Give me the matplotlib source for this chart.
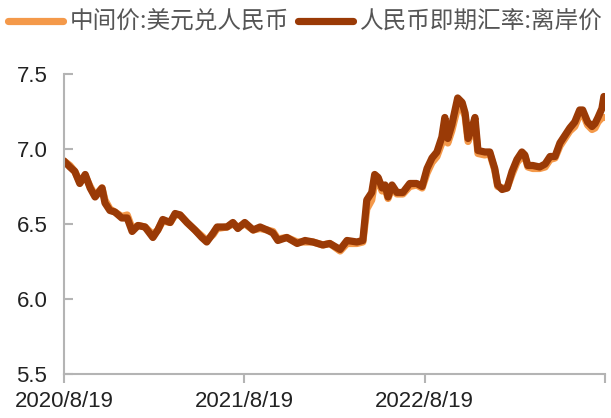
import pandas as pd
import matplotlib
matplotlib.use("Agg")
import matplotlib.pyplot as plt

plt.rcParams['font.family'] = ['Noto Sans CJK SC', 'DejaVu Sans']

dates = ["2020-08-19", "2020-08-31", "2020-09-10", "2020-09-20", "2020-10-01", "2020-10-11",
         "2020-10-21", "2020-11-04", "2020-11-10", "2020-11-20", "2020-11-30", "2020-12-14",
         "2020-12-25", "2021-01-04", "2021-01-16", "2021-01-30", "2021-02-15", "2021-02-25",
         "2021-03-07", "2021-03-22", "2021-04-01", "2021-04-11", "2021-04-25", "2021-05-11",
         "2021-05-25", "2021-06-04", "2021-06-17", "2021-06-25", "2021-07-15", "2021-07-27",
         "2021-08-06", "2021-08-20", "2021-09-06", "2021-09-20", "2021-10-04", "2021-10-16",
         "2021-10-26", "2021-11-13", "2021-12-04", "2021-12-20", "2022-01-05", "2022-01-25",
         "2022-02-08", "2022-03-01", "2022-03-15", "2022-04-04", "2022-04-16", "2022-04-24",
         "2022-05-04", "2022-05-10", "2022-05-17", "2022-05-25", "2022-05-31", "2022-06-06",
         "2022-06-14", "2022-06-24", "2022-07-06", "2022-07-20", "2022-08-03", "2022-08-14",
         "2022-08-24", "2022-09-03", "2022-09-13", "2022-09-23", "2022-09-29", "2022-10-05",
         "2022-10-13", "2022-10-19", "2022-10-25", "2022-11-03", "2022-11-09", "2022-11-15",
         "2022-11-23", "2022-11-29", "2022-12-05", "2022-12-19", "2022-12-29", "2023-01-08",
         "2023-01-14", "2023-01-23", "2023-02-02", "2023-02-12", "2023-02-22", "2023-03-04",
         "2023-03-10", "2023-03-16", "2023-03-26", "2023-04-09", "2023-04-20", "2023-04-30",
         "2023-05-10", "2023-05-20", "2023-05-30", "2023-06-09", "2023-06-19", "2023-06-29",
         "2023-07-05", "2023-07-15", "2023-07-24", "2023-07-30", "2023-08-05", "2023-08-13",
         "2023-08-17"]

# 中间价:美元兑人民币
zhongjianjia = [6.92, 6.89, 6.85, 6.78, 6.82, 6.75, 6.69, 6.74, 6.66, 6.60, 6.58, 6.55,
                6.56, 6.47, 6.49, 6.48, 6.43, 6.46, 6.52, 6.51, 6.56, 6.56, 6.51, 6.46,
                6.42, 6.39, 6.43, 6.47, 6.48, 6.50, 6.48, 6.50, 6.46, 6.47, 6.46, 6.45,
                6.40, 6.41, 6.38, 6.38, 6.38, 6.36, 6.37, 6.32, 6.37, 6.37, 6.38, 6.60,
                6.66, 6.78, 6.79, 6.72, 6.74, 6.67, 6.74, 6.70, 6.70, 6.75, 6.76, 6.74,
                6.84, 6.91, 6.95, 7.04, 7.14, 7.04, 7.12, 7.20, 7.28, 7.27, 7.22, 7.05,
                7.12, 7.17, 6.97, 6.96, 6.97, 6.86, 6.75, 6.74, 6.74, 6.83, 6.91, 6.95,
                6.95, 6.88, 6.87, 6.87, 6.88, 6.93, 6.94, 7.02, 7.07, 7.12, 7.15, 7.23,
                7.24, 7.16, 7.13, 7.14, 7.18, 7.21, 7.21]

# 人民币即期汇率:离岸价
liangjia = [6.92, 6.88, 6.85, 6.77, 6.83, 6.74, 6.68, 6.74, 6.64, 6.59, 6.58, 6.54,
            6.54, 6.45, 6.49, 6.48, 6.41, 6.46, 6.53, 6.51, 6.57, 6.56, 6.51, 6.46,
            6.41, 6.38, 6.44, 6.48, 6.48, 6.51, 6.47, 6.51, 6.46, 6.48, 6.46, 6.44,
            6.39, 6.41, 6.37, 6.39, 6.38, 6.36, 6.37, 6.33, 6.39, 6.38, 6.39, 6.66,
            6.71, 6.83, 6.81, 6.74, 6.76, 6.68, 6.76, 6.71, 6.71, 6.77, 6.77, 6.75,
            6.87, 6.94, 6.98, 7.08, 7.21, 7.07, 7.16, 7.25, 7.34, 7.31, 7.24, 7.07,
            7.14, 7.21, 6.99, 6.98, 6.98, 6.87, 6.76, 6.73, 6.74, 6.85, 6.93, 6.98,
            6.96, 6.89, 6.89, 6.88, 6.90, 6.95, 6.95, 7.04, 7.09, 7.14, 7.18, 7.26,
            7.26, 7.18, 7.15, 7.17, 7.21, 7.27, 7.35]

tick_dates = ["2020-08-19", "2021-08-19", "2022-08-19", "2023-08-19"]
tick_labels = ["2020/8/19", "2021/8/19", "2022/8/19", ""]

x = pd.to_datetime(dates)

fig = plt.figure(figsize=(6.11, 4.18), dpi=100)
ax = fig.add_axes([0.1047, 0.1053, 0.8853, 0.7177])

ax.plot(x, zhongjianjia, color="#F4994A", linewidth=5.2, solid_capstyle="round",
        solid_joinstyle="round", label="中间价:美元兑人民币")
ax.plot(x, liangjia, color="#9A3A06", linewidth=5.2, solid_capstyle="round",
        solid_joinstyle="round", label="人民币即期汇率:离岸价")

ax.set_xlim(pd.Timestamp("2020-08-19"), pd.Timestamp("2023-08-19"))
ax.set_ylim(5.5, 7.5)
ax.set_yticks([5.5, 6.0, 6.5, 7.0, 7.5])
ax.set_yticklabels(["5.5", "6.0", "6.5", "7.0", "7.5"])
ax.set_xticks(pd.to_datetime(tick_dates))
ax.set_xticklabels(tick_labels)

for s in ["top", "right"]:
    ax.spines[s].set_visible(False)
for s in ["left", "bottom"]:
    ax.spines[s].set_color("#b4b4b4")
    ax.spines[s].set_linewidth(1.5)

ax.tick_params(axis="y", direction="in", length=6.5, width=1.5, color="#b4b4b4",
               labelsize=16, pad=12, labelcolor="#222222")
ax.tick_params(axis="x", direction="out", length=6.5, width=1.5, color="#b4b4b4",
               labelsize=16, pad=6, labelcolor="#222222")
for lab in ax.get_xticklabels() + ax.get_yticklabels():
    lab.set_family(["Liberation Sans", "DejaVu Sans"])

fig.legend(loc="upper center", bbox_to_anchor=(0.5, 1.025), ncol=2, frameon=False,
           fontsize=17, handlelength=2.3, handletextpad=0.3, columnspacing=0.4,
           labelcolor="#555555")

fig.savefig("out.png", dpi=100)
